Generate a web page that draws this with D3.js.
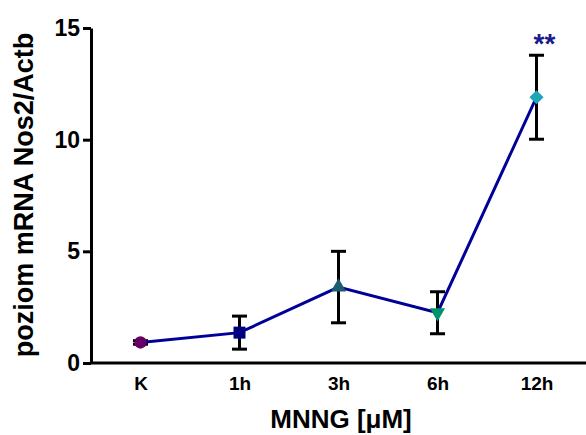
<!DOCTYPE html>
<html>
<head>
<meta charset="utf-8">
<script src="https://cdn.jsdelivr.net/npm/d3@7"></script>
<style>
  html, body { margin: 0; padding: 0; background: #fff; }
  svg { display: block; font-family: "Liberation Sans", Arial, sans-serif; }
</style>
</head>
<body>
<svg id="chart" width="586" height="435"></svg>
<script>
const categories = ["K", "1h", "3h", "6h", "12h"];
const means = [0.92, 1.36, 3.4, 2.25, 11.9];
const errors = [0.08, 0.74, 1.6, 0.94, 1.88];
const markerShapes = ["circle", "square", "triangle", "triangleDown", "diamond"];
const markerColors = ["#660066", "#000080", "#1a5c70", "#00936b", "#1fa5b8"];
const yTicks = [0, 5, 10, 15];
const significance = [null, null, null, null, "**"];

const svg = d3.select("#chart");
const x = d3.scalePoint().domain(categories).range([91, 586]).padding(0.5);
const y = d3.scaleLinear().domain([0, 15]).range([363, 28]);

// Y axis
const yAxis = svg.append("g").attr("transform", "translate(91,0)")
  .call(d3.axisLeft(y).tickValues(yTicks).tickSize(8).tickPadding(3).tickSizeOuter(0));
yAxis.select(".domain").attr("stroke", "#000").attr("stroke-width", 3);
yAxis.selectAll(".tick line").attr("stroke", "#000").attr("stroke-width", 3);
yAxis.selectAll(".tick text").attr("font-size", 23).attr("font-weight", "bold").attr("fill", "#000")
  .attr("font-family", "Liberation Sans, Arial, sans-serif");

// X axis
const xAxis = svg.append("g").attr("transform", "translate(0,363)")
  .call(d3.axisBottom(x).tickSize(0).tickPadding(14).tickSizeOuter(0));
xAxis.select(".domain").attr("stroke", "#000").attr("stroke-width", 3).attr("d", "M91,0H586");
xAxis.selectAll(".tick text").attr("font-size", 19).attr("font-weight", "bold").attr("fill", "#000")
  .attr("font-family", "Liberation Sans, Arial, sans-serif");

// Axis titles
svg.append("text")
  .attr("transform", "translate(33,195) rotate(-90)")
  .attr("text-anchor", "middle")
  .attr("font-size", 27).attr("font-weight", "bold")
  .text("poziom mRNA Nos2/Actb");
svg.append("text")
  .attr("x", 341).attr("y", 428)
  .attr("text-anchor", "middle")
  .attr("font-size", 26).attr("font-weight", "bold")
  .text("MNNG [μM]");

// Error bars
const eb = svg.append("g").attr("stroke", "#000").attr("stroke-width", 3);
categories.forEach((c, i) => {
  const cx = x(c);
  const top = y(means[i] + errors[i]), bot = y(means[i] - errors[i]);
  eb.append("line").attr("x1", cx).attr("x2", cx).attr("y1", top).attr("y2", bot);
  eb.append("line").attr("x1", cx - 7.5).attr("x2", cx + 7.5).attr("y1", top).attr("y2", top);
  eb.append("line").attr("x1", cx - 7.5).attr("x2", cx + 7.5).attr("y1", bot).attr("y2", bot);
});

// Line
svg.append("path")
  .datum(means)
  .attr("fill", "none").attr("stroke", "#000099").attr("stroke-width", 3)
  .attr("d", d3.line().x((d, i) => x(categories[i])).y(d => y(d)));

// Markers
const symbolMap = {
  circle: d3.symbolCircle, square: d3.symbolSquare, triangle: d3.symbolTriangle,
  triangleDown: d3.symbolTriangle, diamond: d3.symbolSquare
};
categories.forEach((c, i) => {
  const s = markerShapes[i];
  let size = 120, rot = 0;
  if (s === "square") size = 144;
  if (s === "triangle" || s === "triangleDown") size = 100;
  if (s === "triangleDown") rot = 180;
  if (s === "diamond") { size = 100; rot = 45; }
  svg.append("path")
    .attr("d", d3.symbol().type(symbolMap[s]).size(size)())
    .attr("transform", `translate(${x(c)},${y(means[i])}) rotate(${rot})`)
    .attr("fill", markerColors[i]);
});

// Significance
categories.forEach((c, i) => {
  if (significance[i]) {
    svg.append("text")
      .attr("x", x(c) + 8).attr("y", 53)
      .attr("text-anchor", "middle")
      .attr("font-size", 28).attr("font-weight", "bold")
      .attr("fill", "#1a1a8c")
      .text(significance[i]);
  }
});
</script>
</body>
</html>
